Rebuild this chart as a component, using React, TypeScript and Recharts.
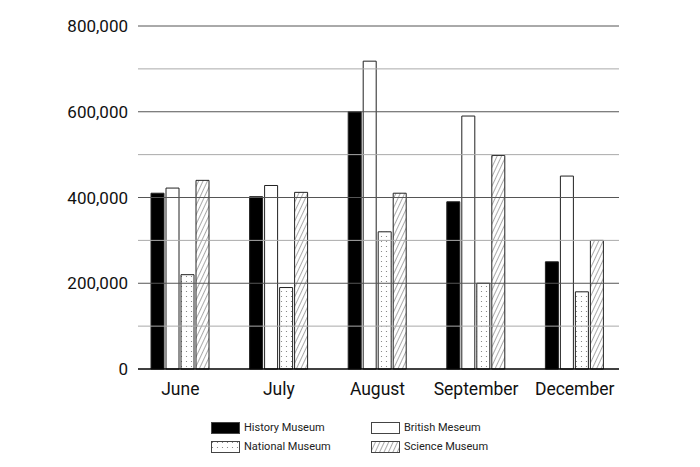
import React from 'react';
import { BarChart, Bar, XAxis, YAxis, ReferenceLine, Legend } from 'recharts';

const months = ['June', 'July', 'August', 'September', 'December'];
const historyMuseum = [410000, 402000, 600000, 390000, 250000];
const britishMuseum = [422000, 428000, 718000, 590000, 450000];
const nationalMuseum = [220000, 190000, 320000, 200000, 180000];
const scienceMuseum = [440000, 412000, 410000, 498000, 300000];
const yTicks = [0, 100000, 200000, 300000, 400000, 500000, 600000, 700000, 800000];
const seriesNames = ['History Museum', 'British Meseum', 'National Museum', 'Science Museum'];

const data = months.map((m, i) => ({
  month: m,
  history: historyMuseum[i],
  british: britishMuseum[i],
  national: nationalMuseum[i],
  science: scienceMuseum[i],
}));

const FONT = 'Roboto, "Noto Sans", sans-serif';
const fills = ['#000000', '#ffffff', 'url(#dotPattern)', 'url(#hatchPattern)'];

const fmt = (v: number) => (v % 200000 === 0 ? v.toLocaleString('en-US') : '');

const LegendContent = () => (
  <div style={{ position: 'relative', width: 420, height: 45, fontFamily: FONT }}>
    {seriesNames.map((name, i) => {
      const col = i % 2;
      const row = Math.floor(i / 2);
      return (
        <div
          key={name}
          style={{ position: 'absolute', left: col * 160, top: row * 19, display: 'flex', alignItems: 'center', height: 12 }}
        >
          <svg width={30} height={12} style={{ display: 'block' }}>
            <rect x={0.5} y={0.5} width={28} height={11} fill={fills[i]} stroke="#444" strokeWidth={1} />
          </svg>
          <span style={{ marginLeft: 3, fontSize: 11, color: '#222', lineHeight: '12px', whiteSpace: 'nowrap' }}>{name}</span>
        </div>
      );
    })}
  </div>
);

export default function App() {
  return (
    <div style={{ position: 'absolute', left: 0, top: 0, width: 700, height: 467, background: '#fff' }}>
      <BarChart
        width={700}
        height={467}
        data={data}
        margin={{ top: 26, right: 81, bottom: 68, left: 0 }}
        barSize={13}
        barGap={2}
      >
        <defs>
          <pattern id="dotPattern" patternUnits="userSpaceOnUse" width="5" height="5">
            <rect width="5" height="5" fill="#ffffff" />
            <circle cx="1.5" cy="1.5" r="0.6" fill="#777" />
          </pattern>
          <pattern id="hatchPattern" patternUnits="userSpaceOnUse" width="4" height="4" patternTransform="rotate(25)">
            <rect width="4" height="4" fill="#ffffff" />
            <line x1="0" y1="0" x2="0" y2="4" stroke="#555" strokeWidth="1" />
          </pattern>
        </defs>
        {yTicks.map((v) => (
          <ReferenceLine
            key={v}
            y={v}
            stroke={v === 0 ? '#000' : v % 200000 === 0 ? '#555' : '#aaa'}
            strokeWidth={v === 0 ? 1.5 : 1}
            ifOverflow="extendDomain"
          />
        ))}
        <XAxis
          dataKey="month"
          axisLine={false}
          tickLine={false}
          tickSize={6}
          tickMargin={8}
          height={30}
          padding={{ left: -7, right: -5 }}
          tick={{ fontSize: 17.5, fill: '#111', fontFamily: FONT }}
          interval={0}
        />
        <YAxis
          domain={[0, 800000]}
          ticks={yTicks}
          tickFormatter={fmt}
          axisLine={false}
          tickLine={false}
          tickSize={0}
          tickMargin={10}
          width={138}
          interval={0}
          tick={{ fontSize: 17, fill: '#111', fontFamily: FONT }}
        />
        <Legend
          layout="horizontal"
          verticalAlign="middle"
          align="center"
          wrapperStyle={{ left: 211, top: 422, width: 420, height: 45 }}
          content={<LegendContent />}
        />
        <Bar dataKey="history" name={seriesNames[0]} fill={fills[0]} stroke="#222" strokeWidth={1} isAnimationActive={false} />
        <Bar dataKey="british" name={seriesNames[1]} fill={fills[1]} stroke="#222" strokeWidth={1} isAnimationActive={false} />
        <Bar dataKey="national" name={seriesNames[2]} fill={fills[2]} stroke="#222" strokeWidth={1} isAnimationActive={false} />
        <Bar dataKey="science" name={seriesNames[3]} fill={fills[3]} stroke="#222" strokeWidth={1} isAnimationActive={false} />
      </BarChart>
    </div>
  );
}
